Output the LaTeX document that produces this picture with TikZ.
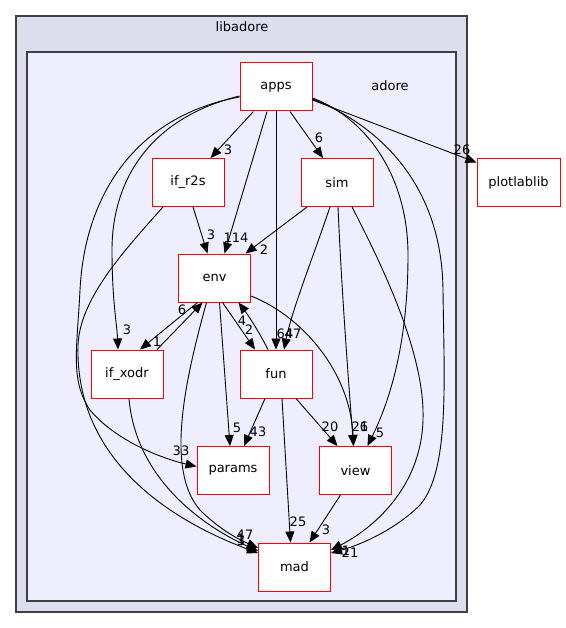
\documentclass[tikz,border=0pt]{standalone}
\usepackage{fontspec}
\setmainfont{DejaVu Sans}
\usetikzlibrary{arrows.meta,calc}

\definecolor{outerfill}{HTML}{DDDDEE}
\definecolor{innerfill}{HTML}{EEEEFF}
\definecolor{frame}{HTML}{404040}

\begin{document}
\begin{tikzpicture}[x=1pt, y=-1pt,
  dirbox/.style={draw=red, line width=1pt, fill=white, minimum width=72pt,
    minimum height=48pt, inner sep=0pt, font=\fontsize{13}{15}\selectfont},
  dep/.style={line width=0.9pt, -{Triangle[length=11pt,width=9pt]}},
  lbl/.style={inner sep=0pt, font=\fontsize{13}{15}\selectfont}]

\useasboundingbox (0,0) rectangle (565,628);

% Draw the clusters
\filldraw[fill=outerfill, draw=frame, line width=1.2pt] (16,16) rectangle (467,612);
\node[lbl] (libadore) at (242,27) {libadore};
\filldraw[fill=innerfill, draw=frame, line width=1.2pt] (27,52) rectangle (456,601);
\node[lbl] (adore) at (390,86) {adore};

% Draw the directories
\node[dirbox] (apps) at (276,87) {apps};
\node[dirbox] (if_r2s) at (188,182.5) {if\_r2s};
\node[dirbox] (sim) at (337,182.5) {sim};
\node[dirbox] (env) at (214.5,278) {env};
\node[dirbox] (if_xodr) at (127,374) {if\_xodr};
\node[dirbox] (fun) at (276,374) {fun};
\node[dirbox] (params) at (233,470.5) {params};
\node[dirbox] (view) at (355.5,470.5) {view};
\node[dirbox] (mad) at (294.5,567) {mad};
\node[dirbox, minimum width=83pt] (plotlablib) at (518.5,183) {plotlablib};

% Dependencies of apps
\draw[dep] (apps) -- (if_r2s) node[lbl] at (228,150) {3};
\draw[dep] ($(apps.south)+(-9,0)$) -- ($(env.north)+(10,0)$) node[lbl] at (236,238) {114};
\draw[dep] (apps) -- (fun) node[lbl] at (285,334) {64};
\draw[dep] ($(apps.south)+(14,0)$) -- ($(sim.north)+(-14,0)$) node[lbl] at (319,138) {6};
\draw[dep] ($(apps.east)+(0,13)$) -- ($(plotlablib.north west)+(0,4)$) node[lbl] at (462,150) {26};
\draw[dep] ($(apps.west)+(0,9)$) .. controls (150,118) and (112,180) .. (112,250)
  .. controls (112,300) and (117,325) .. ($(if_xodr.north)+(-9,0)$) node[lbl] at (127,330) {3};
\draw[dep] ($(apps.west)+(0,10)$) .. controls (140,115) and (85,190) .. (80,290)
  .. controls (77,350) and (70,380) .. (90,410)
  .. controls (115,440) and (160,458) .. ($(params.west)+(0,-4)$) node[lbl] at (181,451) {33};
\draw[dep] ($(apps.east)+(0,11)$) .. controls (370,120) and (408,180) .. (408,255)
  .. controls (408,330) and (395,390) .. ($(view.north)+(12,0)$) node[lbl] at (380,433) {5};
\draw[dep] ($(apps.east)+(0,12)$) .. controls (385,128) and (442,190) .. (443,290)
  .. controls (444,380) and (450,470) .. (420,505)
  .. controls (395,530) and (360,545) .. ($(mad.east)+(0,-14)$) node[lbl] at (350,553) {21};

% Dependencies of if_r2s
\draw[dep] ($(if_r2s.south)+(5,0)$) -- ($(env.north)+(-7,0)$) node[lbl] at (211,235) {3};
\draw[dep] ($(if_r2s.south)+(-25,0)$) .. controls (120,255) and (80,300) .. (78,345)
  .. controls (75,460) and (170,520) .. ($(mad.west)+(0,-14)$) node[lbl] at (241,539) {1};

% Dependencies of sim
\draw[dep] ($(sim.south)+(-30,0)$) -- ($(env.north)+(31,0)$) node[lbl] at (264,250) {2};
\draw[dep] ($(sim.south)+(-7,0)$) .. controls (312,260) and (292,310) .. ($(fun.north)+(8,0)$) node[lbl] at (293,334) {47};
\draw[dep] ($(sim.south)+(1,0)$) .. controls (342,300) and (350,400) .. ($(view.north)+(-2,0)$) node[lbl] at (364,427) {6};
\draw[dep] ($(sim.south)+(15,0)$) .. controls (390,280) and (425,360) .. (423,420)
  .. controls (421,490) and (370,530) .. ($(mad.east)+(0,-17)$) node[lbl] at (346,551) {1};

% Dependencies of env
\draw[dep] ($(env.south)+(-17,0)$) -- ($(if_xodr.north)+(13,0)$) node[lbl] at (182,310) {6};
\draw[dep] ($(env.south)+(8,0)$) -- ($(fun.north)+(-21,0)$) node[lbl] at (249,330) {2};
\draw[dep] ($(env.south)+(5,0)$) -- ($(params.north)+(-3,0)$) node[lbl] at (237,428) {5};
\draw[dep] ($(env.south)+(-8,0)$) .. controls (185,380) and (165,470) .. (200,510)
  .. controls (220,530) and (240,540) .. ($(mad.west)+(0,-19)$) node[lbl] at (245,535) {47};
\draw[dep] ($(env.east)+(0,18)$) .. controls (300,315) and (350,370) .. ($(view.north)+(-2,0)$) node[lbl] at (360,427) {21};

% Dependencies of if_xodr
\draw[dep] ($(if_xodr.north)+(30,0)$) -- ($(env.south)+(-12,0)$) node[lbl] at (157,342) {1};
\draw[dep] ($(if_xodr.south)+(2,0)$) .. controls (135,470) and (190,520) .. ($(mad.west)+(0,-16)$) node[lbl] at (241,541) {3};

% Dependencies of fun
\draw[dep] ($(fun.north)+(-8,0)$) .. controls (258,330) and (248,315) .. ($(env.south)+(24,0)$) node[lbl] at (242,321) {4};
\draw[dep] ($(fun.south)+(-11,0)$) -- ($(params.north)+(11,0)$) node[lbl] at (258,432) {43};
\draw[dep] ($(fun.south)+(20,0)$) -- ($(view.north)+(-18,0)$) node[lbl] at (330,427) {20};
\draw[dep] ($(fun.south)+(6,0)$) -- ($(mad.north)+(-4,0)$) node[lbl] at (298,522) {25};

% Dependencies of view
\draw[dep] ($(view.south)+(-15,0)$) -- ($(mad.north)+(15,0)$) node[lbl] at (326,530) {3};

\end{tikzpicture}
\end{document}
